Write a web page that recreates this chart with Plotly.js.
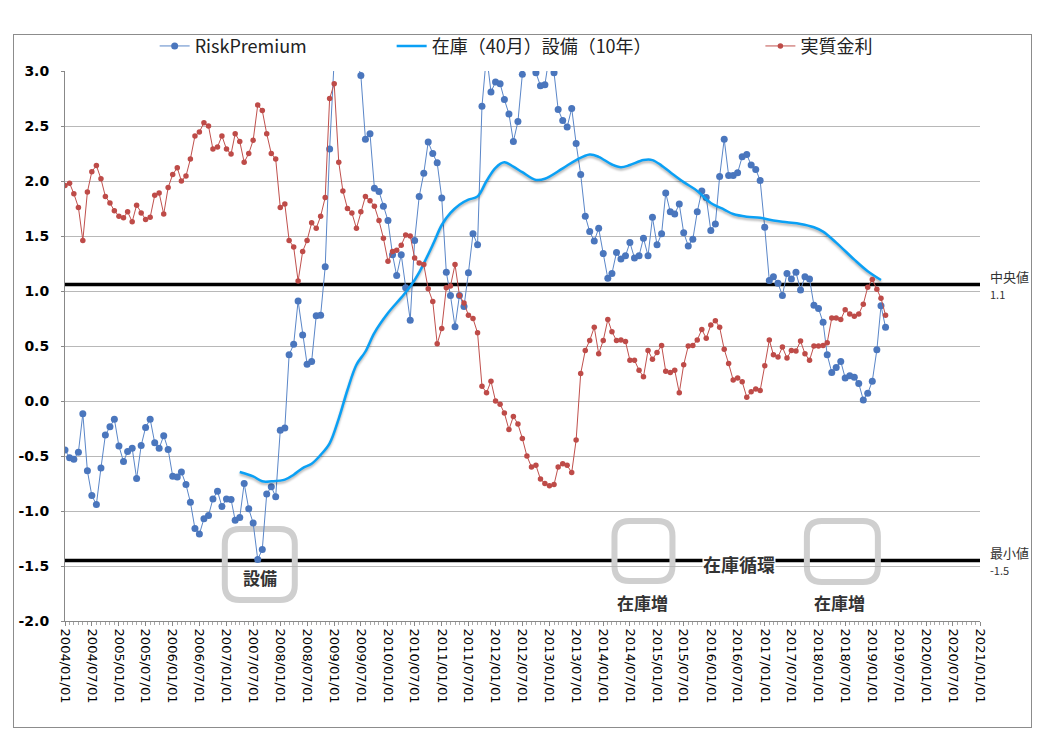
<!DOCTYPE html>
<html><head><meta charset="utf-8">
<script src="https://cdn.plot.ly/plotly-3.0.1.min.js"></script>
<style>
body{margin:0;background:#fff}
#wrap{position:relative;width:1045px;height:729px}
#chart{width:1045px;height:729px}
#frame{position:absolute;left:13px;top:34px;width:1017px;height:692px;border:1px solid #8c8c8c;pointer-events:none}
</style>
</head><body>
<div id="wrap"><div id="chart"></div><div id="frame"></div></div>
<script>
// ---- data ----
const startYear = 2004, startMonth = 1;
const riskPremium = [
-0.445,-0.515,-0.53,-0.465,-0.115,-0.635,-0.86,-0.94,-0.61,-0.31,
-0.235,-0.165,-0.41,-0.55,-0.46,-0.43,-0.705,-0.405,-0.24,-0.165,
-0.38,-0.43,-0.315,-0.44,-0.685,-0.69,-0.645,-0.76,-0.92,-1.16,
-1.21,-1.07,-1.04,-0.89,-0.82,-0.96,-0.89,-0.895,-1.085,-1.06,
-0.75,-0.98,-1.11,-1.44,-1.35,-0.845,-0.78,-0.87,-0.265,-0.245,
0.42,0.515,0.91,0.60,0.335,0.36,0.775,0.78,1.22,2.29,
3.1,3.4,3.6,3.5,3.3,3.1,2.96,2.38,2.43,1.935,
1.905,1.77,1.64,1.33,1.14,1.33,1.03,0.735,1.46,1.86,
2.07,2.355,2.25,2.165,1.845,1.17,0.96,0.675,0.96,0.86,
1.165,1.52,1.42,2.68,3.15,2.81,2.90,2.885,2.74,2.61,
2.36,2.54,2.97,3.2,3.15,2.985,2.865,2.875,3.15,2.985,
2.65,2.55,2.49,2.66,2.34,2.06,1.68,1.54,1.455,1.57,
1.34,1.115,1.16,1.35,1.29,1.32,1.44,1.30,1.32,1.48,
1.32,1.67,1.42,1.52,1.89,1.72,1.70,1.79,1.53,1.41,
1.47,1.72,1.91,1.85,1.55,1.61,2.04,2.38,2.05,2.05,
2.075,2.22,2.24,2.145,2.105,2.005,1.58,1.095,1.13,1.07,
0.96,1.16,1.11,1.17,1.01,1.13,1.11,0.87,0.84,0.715,
0.42,0.26,0.305,0.36,0.21,0.23,0.215,0.16,0.01,0.07,
0.18,0.465,0.865,0.67];
const realRate = [
1.96,1.98,1.885,1.76,1.46,1.90,2.085,2.14,2.02,1.86,
1.80,1.73,1.68,1.665,1.72,1.63,1.78,1.71,1.65,1.67,
1.87,1.89,1.70,1.94,2.06,2.12,2.00,2.045,2.20,2.41,
2.445,2.53,2.50,2.29,2.31,2.41,2.29,2.245,2.43,2.36,
2.17,2.25,2.37,2.69,2.64,2.43,2.25,2.20,1.76,1.79,
1.46,1.40,1.09,1.36,1.46,1.62,1.57,1.68,1.85,2.75,
2.885,2.17,1.91,1.75,1.71,1.57,1.72,1.86,1.82,1.77,
1.64,1.48,1.27,1.36,1.37,1.415,1.51,1.50,1.30,1.255,
1.24,1.02,0.905,0.52,0.66,1.03,1.045,1.24,0.96,0.89,
0.78,0.75,0.62,0.135,0.075,0.18,0.0,-0.03,-0.11,-0.26,
-0.14,-0.21,-0.34,-0.50,-0.60,-0.585,-0.71,-0.75,-0.77,-0.76,
-0.60,-0.57,-0.585,-0.65,-0.355,0.25,0.46,0.55,0.67,0.43,
0.55,0.74,0.63,0.55,0.555,0.54,0.37,0.37,0.28,0.22,
0.46,0.38,0.44,0.505,0.27,0.26,0.28,0.075,0.33,0.50,
0.505,0.555,0.65,0.57,0.69,0.73,0.67,0.47,0.34,0.19,
0.21,0.175,0.035,0.085,0.11,0.095,0.32,0.555,0.42,0.40,
0.49,0.39,0.46,0.455,0.545,0.43,0.37,0.50,0.50,0.505,
0.53,0.755,0.755,0.74,0.83,0.79,0.77,0.79,0.88,1.035,
1.105,1.015,0.935,0.78];
const inventoryDates = [
'2007-04-01','2007-07-01','2007-09-01','2007-11-01','2008-02-01','2008-04-01','2008-06-01','2008-08-01',
'2008-10-01','2008-12-01','2009-02-01','2009-04-01','2009-06-01','2009-08-01','2009-10-01','2010-01-01',
'2010-04-01','2010-06-01','2010-08-01','2010-11-01','2011-01-01','2011-03-01','2011-05-01','2011-07-01',
'2011-09-01','2011-11-01','2012-01-01','2012-03-01','2012-05-01','2012-07-01','2012-10-01','2012-12-01',
'2013-04-01','2013-07-01','2013-10-01','2013-12-01','2014-03-01','2014-05-01','2014-07-01','2014-10-01',
'2014-12-01','2015-02-01','2015-04-01','2015-07-01','2015-10-01','2016-01-01','2016-04-01','2016-06-01',
'2016-09-01','2016-12-01','2017-03-01','2017-06-01','2017-09-01','2017-12-01','2018-02-01','2018-05-01',
'2018-09-01','2018-12-01','2019-03-01'];
const inventoryValues = [
-0.645,-0.685,-0.73,-0.73,-0.715,-0.67,-0.61,-0.57,
-0.49,-0.385,-0.16,0.10,0.33,0.45,0.62,0.80,
0.94,1.04,1.17,1.42,1.60,1.71,1.785,1.83,
1.86,2.0,2.12,2.17,2.13,2.08,2.01,2.02,
2.115,2.19,2.24,2.22,2.15,2.125,2.145,2.19,
2.19,2.14,2.08,1.99,1.91,1.80,1.74,1.70,
1.675,1.665,1.64,1.625,1.61,1.58,1.54,1.44,
1.285,1.18,1.10];
const medianValue = -0 + 1.06, medianLabel = '1.1';
const minValue = -1.45, minLabel = '-1.5';
const seriesNames = ['RiskPremium','在庫（40月）設備（10年）','実質金利'];
const yTickVals = [-2,-1.5,-1,-0.5,0,0.5,1,1.5,2,2.5,3];
const yTickText = ['-2.0','-1.5','-1.0','-0.5','0.0','0.5','1.0','1.5','2.0','2.5','3.0'];
const notes = [
  {text:'設備', x:'2007-08-15', y:-1.60, box:{x:'2007-08-15', y:-1.486, w:70, h:71}},
  {text:'在庫増', x:'2014-09-27', y:-1.83, box:{x:'2014-10-01', y:-1.364, w:58, h:60}},
  {text:'在庫増', x:'2018-05-25', y:-1.83, box:{x:'2018-06-12', y:-1.368, w:71, h:61}}
];
const cycleLabel = {text:'在庫循環', x:'2016-07-10', y:-1.482};

// ---- build ----
function monthDates(n){
  const out=[];
  for(let i=0;i<n;i++){
    const t=(startMonth-1)+i, y=startYear+Math.floor(t/12), m=(t%12)+1;
    out.push(y+'-'+String(m).padStart(2,'0')+'-01');
  }
  return out;
}
const dates = monthDates(riskPremium.length);
const JP = "'Noto Sans CJK JP', 'DejaVu Sans', sans-serif";

const traces = [
  {type:'scatter', mode:'lines+markers', name:seriesNames[0], x:dates, y:riskPremium,
   line:{color:'#5a86c8', width:1}, marker:{color:'#4a76bd', size:7}, legend:'legend'},
  {type:'scatter', mode:'lines', name:seriesNames[1], x:inventoryDates, y:inventoryValues,
   line:{color:'#0aa0f5', width:2.5, shape:'spline', smoothing:1}, legend:'legend2'},
  {type:'scatter', mode:'lines+markers', name:seriesNames[2], x:dates.slice(0,realRate.length), y:realRate,
   line:{color:'#c0504d', width:1}, marker:{color:'#be4b48', size:5.5}, legend:'legend3'}
];

function roundRect(w,h,r){
  const a=w/2,b=h/2;
  return `M ${-a+r},${-b} L ${a-r},${-b} Q ${a},${-b} ${a},${-b+r} L ${a},${b-r} Q ${a},${b} ${a-r},${b} `+
         `L ${-a+r},${b} Q ${-a},${b} ${-a},${b-r} L ${-a},${-b+r} Q ${-a},${-b} ${-a+r},${-b} Z`;
}
const shapes = [];
notes.forEach(n=>{
  shapes.push({type:'path', layer:'below', xref:'x', yref:'y', xsizemode:'pixel', ysizemode:'pixel',
    xanchor:n.box.x, yanchor:n.box.y, path:roundRect(n.box.w,n.box.h,15),
    line:{color:'#cfcfcf', width:6}});
});
[medianValue,minValue].forEach(v=>{
  shapes.push({type:'line', layer:'below', xref:'paper', x0:0, x1:1, yref:'y', y0:v, y1:v,
    line:{color:'#000', width:3.5}});
});

const annotations = notes.map(n=>({text:n.text, x:n.x, y:n.y, xref:'x', yref:'y', showarrow:false,
  font:{family:JP, size:17, color:'#333', weight:'bold'}}));
annotations.push({text:cycleLabel.text, x:cycleLabel.x, y:cycleLabel.y, xref:'x', yref:'y', showarrow:false,
  bgcolor:'#fff', borderpad:0, font:{family:JP, size:18, color:'#333', weight:'bold'}});
annotations.push({text:'中央値<br><span style="font-size:11px">'+medianLabel+'</span>', x:1.0087, xref:'paper', xanchor:'left',
  y:medianValue, yref:'y', yanchor:'middle', align:'left', showarrow:false, font:{family:JP, size:13, color:'#333'}});
annotations.push({text:'最小値<br><span style="font-size:11px">'+minLabel+'</span>', x:1.0087, xref:'paper', xanchor:'left',
  y:minValue, yref:'y', yanchor:'middle', align:'left', showarrow:false, font:{family:JP, size:13, color:'#333'}});

const legendBase = {orientation:'h', yanchor:'middle', y:1.045, xanchor:'left', bgcolor:'rgba(0,0,0,0)',
  font:{family:JP, size:18, color:'#222'}};
const layout = {
  width:1045, height:729, paper_bgcolor:'#fff', plot_bgcolor:'#fff',
  margin:{l:65, r:65, t:71, b:108},
  showlegend:true,
  legend:Object.assign({}, legendBase, {x:0.098}),
  legend2:Object.assign({}, legendBase, {x:0.357}),
  legend3:Object.assign({}, legendBase, {x:0.76}),
  xaxis:{type:'date', range:['2004-01-01','2021-01-01'], tick0:'2004-01-01', dtick:'M6',
    tickformat:'%Y/%m/%d', tickangle:90, ticks:'outside', ticklen:4, tickcolor:'#888',
    showline:true, linecolor:'#888', showgrid:false, zeroline:false,
    tickfont:{family:'DejaVu Sans', size:13, color:'#000'},
    minor:{dtick:'M1', ticks:'outside', ticklen:3, tickcolor:'#aaa', showgrid:false}},
  yaxis:{range:[-2,3], tickvals:yTickVals, ticktext:yTickText, showgrid:true, gridcolor:'#b8b8b8', gridwidth:1,
    showline:true, linecolor:'#888', zeroline:false, ticks:'outside', ticklen:3, tickcolor:'#888',
    ticklabelstandoff:9, tickfont:{family:'DejaVu Sans', size:14, color:'#000', weight:'bold'}},
  shapes:shapes, annotations:annotations
};
Plotly.newPlot('chart', traces, layout, {displayModeBar:false, staticPlot:true}).then(()=>{
  const tr = document.querySelectorAll('.scatterlayer .trace');
  if(tr[1]){ const p = tr[1].querySelector('.js-line'); if(p) p.style.filter='drop-shadow(0px 2px 1px rgba(0,0,0,0.3))'; }
});
</script>
</body></html>
